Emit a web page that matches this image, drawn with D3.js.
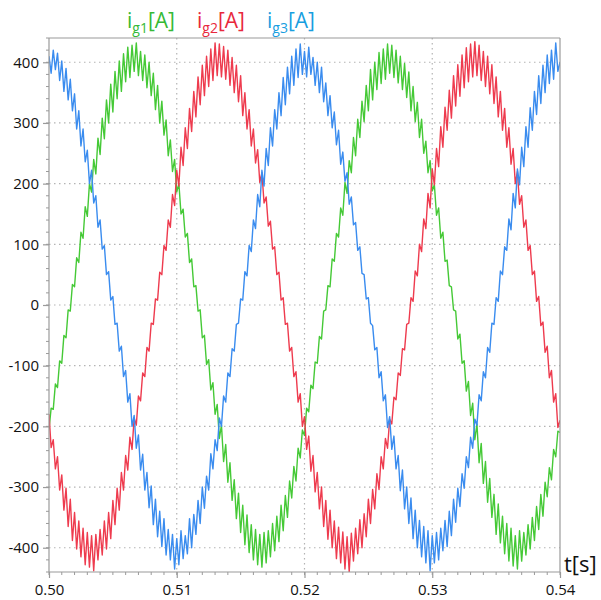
<!DOCTYPE html>
<html>
<head>
<meta charset="utf-8">
<script src="https://cdn.jsdelivr.net/npm/d3@7"></script>
<style>
  html, body { margin: 0; padding: 0; background: #fff; }
  svg { display: block; }
  text { font-family: "Open Sans", "Noto Sans", sans-serif; }
</style>
</head>
<body>
<svg id="chart" width="601" height="600"></svg>
<script>
// ---- Data ----
const tStart = 0.50, tEnd = 0.54;           // time span of the samples [s]
const xTicks = [0.50, 0.51, 0.52, 0.53, 0.54];
const xTickLabels = ["0.50", "0.51", "0.52", "0.53", "0.54"];
const yTicks = [-400, -300, -200, -100, 0, 100, 200, 300, 400];
const yTickLabels = ["-400", "-300", "-200", "-100", "0", "100", "200", "300", "400"];
const seriesNames = ["g1", "g2", "g3"];

const ig1 = [-205,-170,-172,-130,-136,-92,-96,-50,-54,-8,-10,34,30,78,70,120,110,162,146,200,186,240,216,275,248,308,274,338,300,364,318,385,340,402,352,414,368,425,375,428,
385,432,378,418,370,412,358,400,345,382,322,362,300,336,280,305,246,272,220,240,186,200,150,158,112,118,70,76,30,32,-10,-8,-54,-50,-98,-90,-140,-128,-180,-164,
-220,-198,-258,-230,-292,-260,-322,-288,-352,-310,-375,-330,-395,-346,-408,-362,-420,-370,-428,-378,-432,-375,-425,-372,-415,-360,-405,-348,-390,-330,-372,-314,-350,-290,-318,-266,-290,-236,-252,-206,
-215,-170,-176,-132,-138,-94,-96,-52,-56,-10,-8,32,30,76,72,118,112,160,148,202,184,238,218,276,246,306,276,336,302,362,320,388,338,400,355,416,365,422,372,430,
382,428,375,420,366,410,355,398,342,384,320,360,302,334,276,306,250,270,218,238,188,198,148,160,110,120,72,74,32,30,-8,-10,-56,-48,-96,-92,-142,-126,-182,-162,
-222,-196,-260,-228,-294,-258,-325,-286,-350,-312,-378,-328,-392,-348,-410,-360,-422,-368,-430,-380,-435,-372,-422,-375,-412,-362,-402,-350,-388,-332,-370,-312,-348,-292,-316,-268,-288,-238,-250,-208,
-210];

const ig2 = [-180,-235,-222,-270,-250,-305,-280,-338,-302,-365,-320,-388,-342,-402,-356,-415,-368,-428,-375,-432,-380,-438,-378,-420,-370,-412,-356,-402,-342,-385,-322,-362,-302,-338,-276,-305,-248,-272,-218,-238,
-186,-198,-150,-158,-112,-118,-70,-76,-30,-32,10,8,54,50,98,90,140,128,182,164,222,196,260,230,292,258,324,286,352,310,376,330,395,345,410,360,422,370,432,378,
430,376,426,372,420,362,408,350,395,335,378,312,350,290,322,262,290,234,256,202,218,168,178,130,138,92,96,50,54,8,12,-32,-30,-76,-70,-118,-110,-160,-146,-200,
-184,-238,-216,-274,-248,-308,-276,-336,-300,-365,-322,-386,-338,-400,-356,-418,-366,-425,-374,-435,-382,-440,-376,-422,-368,-410,-354,-400,-344,-382,-320,-360,-304,-336,-278,-304,-250,-270,-220,-236,
-188,-196,-152,-156,-112,-116,-72,-74,-32,-30,12,6,56,48,100,88,142,126,184,160,224,198,258,228,294,260,326,288,354,308,378,328,396,344,412,358,424,368,430,376,
434,378,428,370,418,360,410,348,396,332,376,310,352,288,324,260,292,232,258,200,220,166,180,128,140,90,98,50,56,6,14,-34,-28,-78,-68,-120,-108,-160,-146,-202,
-190];

const ig3 = [410,382,420,388,415,370,402,352,390,338,372,320,348,290,320,262,290,236,255,200,222,168,180,128,140,92,98,50,55,8,14,-32,-30,-76,-68,-118,-108,-160,-146,-200,
-182,-236,-214,-272,-246,-305,-276,-334,-298,-362,-320,-382,-340,-398,-352,-412,-370,-420,-378,-435,-385,-428,-372,-418,-380,-410,-352,-400,-345,-378,-322,-360,-300,-335,-282,-305,-245,-270,-222,-240,
-186,-200,-150,-160,-112,-118,-72,-76,-32,-30,10,8,55,48,98,88,140,126,182,162,222,196,258,230,292,262,322,290,350,312,375,330,392,348,410,362,422,375,430,380,
418,376,425,380,408,362,400,350,392,335,366,312,345,292,318,264,288,232,252,204,218,166,178,132,136,90,96,52,50,10,12,-30,-34,-74,-70,-120,-110,-158,-148,-202,
-184,-238,-216,-270,-248,-306,-272,-336,-300,-360,-318,-385,-338,-400,-355,-415,-365,-425,-372,-438,-380,-425,-375,-420,-368,-405,-355,-398,-340,-380,-320,-358,-302,-332,-278,-302,-250,-268,-218,-236,
-188,-198,-148,-158,-110,-120,-70,-78,-30,-32,12,6,56,50,96,90,142,124,184,160,224,198,260,228,294,260,325,288,352,314,378,332,395,350,412,365,420,372,432,385,
400];

// ---- Layout / style ----
const W = 601, H = 600;
const plot = { left: 49, right: 560, top: 38, bottom: 572 };
const colors = { g1: "#45c936", g2: "#ee3b4e", g3: "#3a8cef" };
const labelColors = { g1: "#36b936", g2: "#e8283c", g3: "#199edf" };
const axisColor = "#9a9a9a";

const svg = d3.select("#chart");

const x = d3.scaleLinear().domain([tStart, tEnd]).range([plot.left, plot.right]);
const y = d3.scaleLinear().domain([-440, 440]).range([plot.bottom, plot.top]);

// grid
const grid = svg.append("g").attr("class", "grid");
grid.selectAll("line.h").data(yTicks).join("line")
  .attr("x1", plot.left).attr("x2", plot.right)
  .attr("y1", d => y(d)).attr("y2", d => y(d))
  .attr("stroke", "#b4b4b4").attr("stroke-width", 1.2)
  .attr("stroke-dasharray", "1.5,3.5");
grid.selectAll("line.v").data(xTicks.slice(1, -1)).join("line")
  .attr("x1", d => x(d)).attr("x2", d => x(d))
  .attr("y1", plot.top).attr("y2", plot.bottom)
  .attr("stroke", "#b4b4b4").attr("stroke-width", 1.2)
  .attr("stroke-dasharray", "1.5,3.5");

// clip
svg.append("clipPath").attr("id", "clip").append("rect")
  .attr("x", plot.left).attr("y", plot.top)
  .attr("width", plot.right - plot.left).attr("height", plot.bottom - plot.top);

const series = [
  { key: "g1", values: ig1 },
  { key: "g2", values: ig2 },
  { key: "g3", values: ig3 }
];

const line = d3.line()
  .x((d, i, arr) => x(tStart + i * (tEnd - tStart) / (arr.length - 1)))
  .y(d => y(d));

const lines = svg.append("g").attr("clip-path", "url(#clip)");
lines.selectAll("path").data(series).join("path")
  .attr("d", d => line(d.values))
  .attr("fill", "none")
  .attr("stroke", d => colors[d.key])
  .attr("stroke-width", 1.4)
  .attr("stroke-linejoin", "round");

// frame (top/right)
svg.append("line").attr("x1", plot.left).attr("x2", plot.right).attr("y1", plot.top).attr("y2", plot.top)
  .attr("stroke", axisColor).attr("stroke-width", 1.2);
svg.append("line").attr("x1", plot.right).attr("x2", plot.right).attr("y1", plot.top).attr("y2", plot.bottom)
  .attr("stroke", axisColor).attr("stroke-width", 1.2);

// minor ticks
const yMinor = d3.range(-440, 441, 20);
svg.append("g").selectAll("line").data(yMinor).join("line")
  .attr("x1", plot.left - 3).attr("x2", plot.left)
  .attr("y1", d => y(d)).attr("y2", d => y(d))
  .attr("stroke", axisColor).attr("stroke-width", 1);
const xMinor = d3.range(0, 41).map(k => tStart + k * 0.001);
svg.append("g").selectAll("line").data(xMinor).join("line")
  .attr("x1", d => x(d)).attr("x2", d => x(d))
  .attr("y1", plot.bottom).attr("y2", plot.bottom + 3)
  .attr("stroke", axisColor).attr("stroke-width", 1);

// axes
const yAxis = d3.axisLeft(y).tickValues(yTicks)
  .tickFormat((d, i) => yTickLabels[i]).tickSize(6).tickPadding(4);
const gy = svg.append("g").attr("transform", `translate(${plot.left},0)`).call(yAxis);
gy.select(".domain").attr("stroke", axisColor).attr("stroke-width", 1.2)
  .attr("d", `M0,${plot.top}V${plot.bottom}`);
gy.selectAll(".tick line").attr("stroke", axisColor).attr("stroke-width", 1.2);
gy.selectAll(".tick text").attr("fill", "#111").style("font-size", "15px")
  .style("font-family", '"Open Sans", sans-serif');

const xAxis = d3.axisBottom(x).tickValues(xTicks)
  .tickFormat((d, i) => xTickLabels[i]).tickSize(6).tickPadding(6);
const gx = svg.append("g").attr("transform", `translate(0,${plot.bottom})`).call(xAxis);
gx.select(".domain").attr("stroke", axisColor).attr("stroke-width", 1.2)
  .attr("d", `M${plot.left},0H${plot.right}`);
gx.selectAll(".tick line").attr("stroke", axisColor).attr("stroke-width", 1.2);
gx.selectAll(".tick text").attr("fill", "#111").style("font-size", "15px")
  .style("font-family", '"Open Sans", sans-serif');

// axis title t[s]
svg.append("text").attr("x", 564).attr("y", 572)
  .attr("fill", "#111").style("font-size", "22px").text("t[s]");

// series labels
const labelX = { g1: 127, g2: 197, g3: 267 };
const lab = svg.append("g");
seriesNames.forEach(k => {
  const t = lab.append("text").attr("x", labelX[k]).attr("y", 28)
    .attr("fill", labelColors[k]).style("font-size", "21px");
  t.append("tspan").text("i");
  t.append("tspan").attr("dy", 5).style("font-size", "14px").text(k);
  t.append("tspan").attr("dy", -5).text("[A]");
});
</script>
</body>
</html>
